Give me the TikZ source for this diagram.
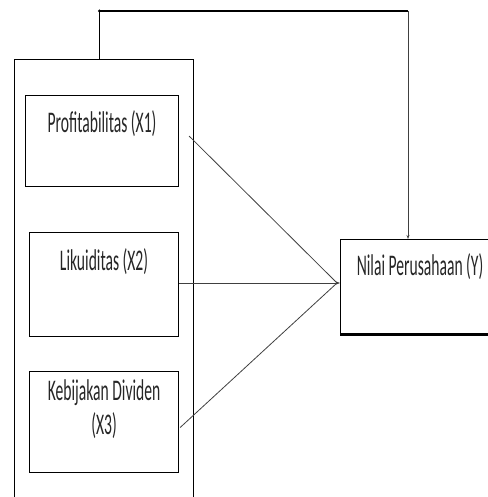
\documentclass[tikz,border=0pt]{standalone}
\usepackage{fontspec}
\newfontfamily\labelfont[FakeStretch=0.52]{Carlito}
\usetikzlibrary{arrows.meta}

\begin{document}
\begin{tikzpicture}[x=1pt, y=-1pt,
    varbox/.style={draw, line width=1.1pt, minimum width=149pt, inner sep=0pt, anchor=north west},
    varlabel/.style={font=\labelfont\fontsize{30}{29}\selectfont, align=center, text=black!85},
    link/.style={draw, black!75, line width=0.8pt},
    tip/.style={-{Stealth[length=4pt, width=3pt]}}]
    \useasboundingbox (0,0) rectangle (487,497);
    \node[draw, line width=0.9pt, minimum width=179pt, minimum height=480pt, anchor=north west, inner sep=0pt] (grup) at (14,59) {};
    \node[varbox, minimum width=153pt, minimum height=91pt] (x1) at (25,95) {};
    \node[varbox, minimum height=104pt] (x2) at (29,232) {};
    \node[varbox, minimum height=101pt] (x3) at (29,371) {};
    \node[draw, line width=1.1pt, minimum width=159pt, minimum height=94pt, anchor=north west, inner sep=0pt] (y) at (340,239) {};
    \draw[line width=3pt] (y.south west) -- (y.south east);
    \node[varlabel] (t1) at ([yshift=-29pt]x1.north) {Profitabilitas (X1)};
    \node[varlabel] (t2) at ([yshift=-30pt]x2.north) {Likuiditas (X2)};
    \node[varlabel] (t3) at ([yshift=-38pt]x3.north) {Kebijakan Dividen\\[5pt](X3)};
    \node[varlabel] (ty) at ([yshift=-28pt]y.north) {Nilai Perusahaan (Y)};
    \coordinate (meet) at (337,283);
    \coordinate (top) at (408,11);
    \draw[link] ([xshift=10pt,yshift=5pt]x1.east) -- (meet);
    \draw[link] (x2.east |- meet) -- (meet);
    \draw[link] ([xshift=1pt,yshift=-5.5pt]x3.east) -- (meet);
    \draw[link, tip] (meet) -- (y.west |- meet);
    \draw[line width=1.3pt] ([xshift=-4.5pt]grup.north) |- (top);
    \fill ([xshift=-4.5pt]grup.north |- top) circle (1.6pt);
    \draw[link, tip] (top) -- (top |- y.north);
\end{tikzpicture}
\end{document}
